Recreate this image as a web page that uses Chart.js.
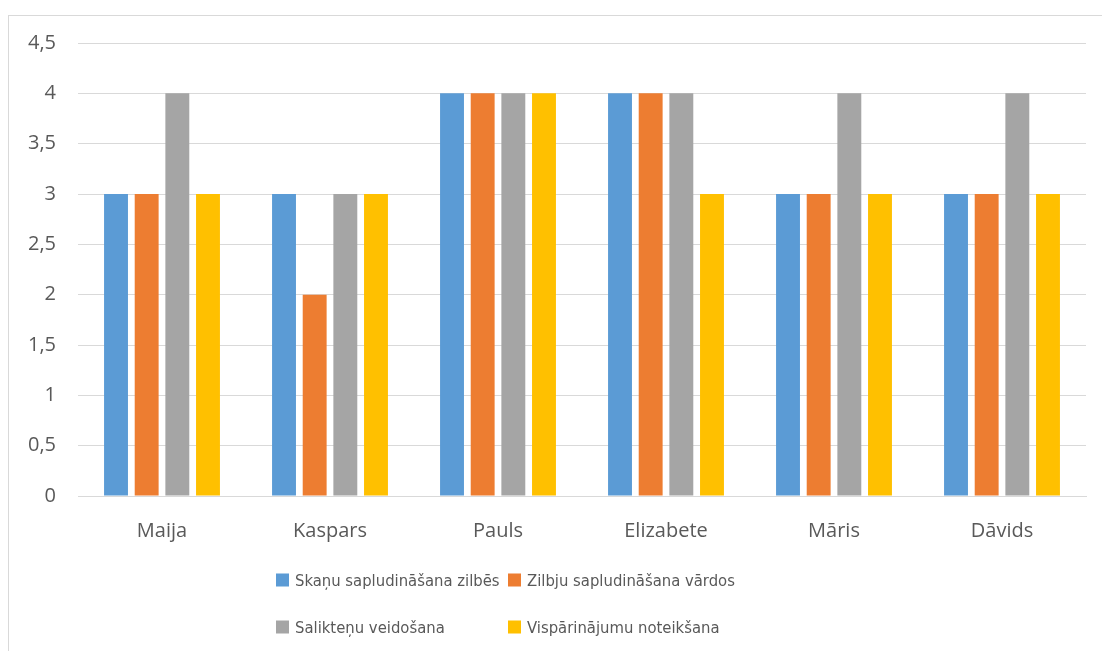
<!DOCTYPE html>
<html>
<head>
<meta charset="utf-8">
<script src="https://cdn.jsdelivr.net/npm/chart.js@4/dist/chart.umd.min.js"></script>
<style>
  html, body { margin: 0; padding: 0; background: #fff; overflow: hidden; }
  #wrap { position: relative; width: 1102px; height: 651px; }
  #frame { position: absolute; left: 8px; top: 15px; width: 1200px; height: 700px; border: 1px solid #D9D9D9; box-sizing: border-box; }
  #chart { position: absolute; left: 0; top: 0; }
  #legend { position: absolute; left: 0; top: 0; font-family: "Liberation Sans Narrow", "DejaVu Sans Condensed", sans-serif; font-size: 16.5px; color: #595959; }
  .item { position: absolute; display: flex; align-items: center; white-space: nowrap; transform: translateY(-50%); }
  .box { width: 13px; height: 13px; margin-right: 6px; }
</style>
</head>
<body>
<div id="wrap">
  <div id="frame"></div>
  <canvas id="chart" width="1102" height="651"></canvas>
  <div id="legend"></div>
</div>
<script>
const students = ['Maija', 'Kaspars', 'Pauls', 'Elizabete', 'Māris', 'Dāvids'];
const seriesNames = ['Skaņu sapludināšana zilbēs', 'Zilbju sapludināšana vārdos', 'Salikteņu veidošana', 'Vispārinājumu noteikšana'];
const skanas = [3, 3, 4, 4, 3, 3];
const zilbes = [3, 2, 4, 4, 3, 3];
const salikteni = [4, 3, 4, 4, 4, 4];
const visparinajumi = [3, 3, 4, 3, 3, 3];
const colors = ['#5B9BD5', '#ED7D31', '#A5A5A5', '#FFC000'];

const seriesValues = [skanas, zilbes, salikteni, visparinajumi];
const textColor = '#595959';
const fontFamily = '"Open Sans", sans-serif';

const ctx = document.getElementById('chart').getContext('2d');
const chart = new Chart(ctx, {
  type: 'bar',
  data: {
    labels: students,
    datasets: seriesNames.map((name, i) => ({
      label: name,
      data: seriesValues[i],
      backgroundColor: colors[i],
      borderWidth: 0,
      categoryPercentage: 0.73,
      barPercentage: 0.78
    }))
  },
  options: {
    responsive: false,
    animation: false,
    layout: { padding: { left: 0, right: 16, top: 43, bottom: 95 } },
    scales: {
      y: {
        min: 0,
        max: 4.5,
        ticks: {
          stepSize: 0.5,
          padding: 22,
          color: textColor,
          font: { family: fontFamily, size: 20 },
          callback: v => String(v).replace('.', ',')
        },
        grid: { color: '#D9D9D9', lineWidth: 1, drawTicks: false },
        border: { display: false },
        afterFit: scale => { scale.width = 78; }
      },
      x: {
        ticks: {
          padding: 15,
          color: textColor,
          font: { family: fontFamily, size: 20 }
        },
        grid: { display: false },
        border: { display: true, color: '#D9D9D9' },
        afterFit: scale => { scale.height = 60; }
      }
    },
    plugins: {
      legend: { display: false },
      tooltip: { enabled: false }
    }
  }
});

// legend laid out like the original: two columns, two rows
const legendPos = [[276, 580], [508, 580], [276, 627], [508, 627]];
const legend = document.getElementById('legend');
seriesNames.forEach((name, i) => {
  const item = document.createElement('div');
  item.className = 'item';
  item.style.left = legendPos[i][0] + 'px';
  item.style.top = legendPos[i][1] + 'px';
  item.innerHTML = '<span class="box" style="background:' + colors[i] + '"></span><span>' + name + '</span>';
  legend.appendChild(item);
});
</script>
</body>
</html>
